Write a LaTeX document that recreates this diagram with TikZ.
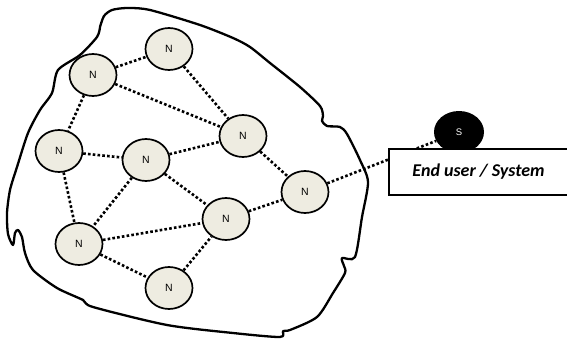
\documentclass[tikz,border=0pt]{standalone}
\usepackage{fontspec}
\setmainfont{Liberation Sans}
\newfontfamily\labelfont{Carlito}
\usetikzlibrary{shapes.geometric}
\definecolor{nodefill}{RGB}{238,236,225}
\begin{document}
\begin{tikzpicture}[x=1pt,y=-1pt,
  netnode/.style={ellipse,draw,line width=1.7pt,fill=nodefill,
    minimum width=47pt,minimum height=42pt,inner sep=0pt,
    font=\fontsize{10.5}{11}\selectfont},
  source/.style={ellipse,fill=black,minimum width=50pt,minimum height=42pt,
    inner sep=0pt,text=white,font=\fontsize{9.5}{10}\selectfont},
  link/.style={line width=2.6pt,dash pattern=on 2.6pt off 2.2pt},
  caption/.style={draw,line width=1.3pt,fill=white,inner sep=0pt,
    minimum width=179pt,minimum height=46pt,
    font=\labelfont\fontsize{18}{20}\selectfont\bfseries\itshape}]
\useasboundingbox (0,0) rectangle (567,340);

% region outline
\draw[line width=2.3pt,line join=round]
  plot[smooth,tension=0.45] coordinates {
   (100,27) (104,16) (112,10) (127,8) (150,10) (200,25) (233,38)
   (250,47) (270,63) (300,87) (320,106) (323,116) (322,121) (327,126)
   (340,127) (347,134) (360,160) (368,182) (362,217) (355,257)
   (342,258) (344,266) (345,273) (333,293) (317,317) (290,330)
   (283,331) (280,337) (233,333) (167,325) (93,307) (83,300)
   (57,288) (33,270) (25,253) (22,237) (18,230) (15,233) (13,245)
   (8,234) (7,213) (10,190) (17,167) (28,133) (40,110) (52,93)
   (58,70) (80,55) (97,37) (100,27)};

% nodes
\node[netnode] (n1) at (169,49)  {N};
\node[netnode] (n2) at (93,75)   {N};
\node[netnode] (n3) at (59,151)  {N};
\node[netnode] (n4) at (146,160) {N};
\node[netnode] (n5) at (243,136) {N};
\node[netnode] (n6) at (226,219) {N};
\node[netnode] (n7) at (79,244)  {N};
\node[netnode] (n8) at (169,288) {N};
\node[netnode] (n9) at (305,192) {N};
\node[source]  (s)  at (459,132) {S};

% links
\draw[link] (n2) -- (n1);
\draw[link] (n2) -- (n5);
\draw[link] (n1) -- (n5);
\draw[link] (n2) -- (n3);
\draw[link] (n3) -- (n4);
\draw[link] (n4) -- (n5);
\draw[link] (n3) -- (n7);
\draw[link] (n4) -- (n7);
\draw[link] (n4) -- (n6);
\draw[link] (n5) -- (n9);
\draw[link] (n6) -- (n9);
\draw[link] (n7) -- (n6);
\draw[link] (n7) -- (n8);
\draw[link] (n8) -- (n6);
\draw[link] (n9) -- (s);

% caption box over the source
\node[caption] (cap) at (478.5,172) {End user / System};
\end{tikzpicture}
\end{document}
